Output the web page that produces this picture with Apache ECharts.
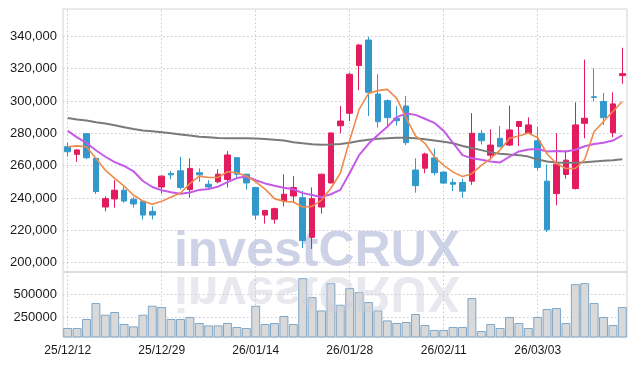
<!DOCTYPE html>
<html>
<head>
<meta charset="utf-8">
<script src="https://cdn.jsdelivr.net/npm/echarts@6/dist/echarts.min.js"></script>
<style>
html,body{margin:0;padding:0;background:#fff;}
#chart{width:637px;height:366px;}
</style>
</head>
<body>
<div id="chart"></div>
<script>
var dates = ['25/12/12','25/12/15','25/12/16','25/12/17','25/12/18','25/12/19','25/12/22','25/12/23','25/12/24','25/12/26',
'25/12/29','25/12/30','26/01/02','26/01/05','26/01/06','26/01/07','26/01/08','26/01/09','26/01/12','26/01/13',
'26/01/14','26/01/15','26/01/16','26/01/19','26/01/20','26/01/21','26/01/22','26/01/23','26/01/26','26/01/27',
'26/01/28','26/01/29','26/01/30','26/02/02','26/02/03','26/02/04','26/02/05','26/02/06','26/02/09','26/02/10',
'26/02/11','26/02/12','26/02/13','26/02/19','26/02/20','26/02/23','26/02/24','26/02/25','26/02/26','26/02/27',
'26/03/03','26/03/04','26/03/05','26/03/06','26/03/09','26/03/10','26/03/11','26/03/12','26/03/13','26/03/16'];

var opens = [271700,267000,279800,264500,234400,239400,244800,239200,238000,231700,
246800,255200,256800,245200,255600,248500,250000,251400,264900,254700,
246500,229400,226900,238100,241200,240200,215700,234400,249300,284700,
292400,321900,337700,304300,300200,289300,296900,257300,258400,264800,
256000,249600,249600,250400,280000,266500,276900,272700,284200,280000,
275400,250400,242700,254500,245800,286200,302600,299700,280400,315700];
var closes = [268600,269700,264900,244000,239600,244800,238100,236300,229400,229400,
253500,254300,246500,258300,254300,246800,254700,266600,254700,249300,
229400,232300,233400,242300,246500,213700,239600,254700,280200,287600,
316500,334600,305400,287200,289700,287800,274200,247600,267200,255600,
249200,248500,244200,280000,275400,272700,271700,282100,287300,285200,
258900,220300,260900,263400,285200,289300,302200,289700,298200,316900];
var lows = [265500,262400,264100,242500,231700,234000,237100,234000,226700,226700,
242700,251600,245200,240200,250000,245800,249000,246500,252000,245200,
226600,224100,224100,234800,236900,209100,208500,230300,249000,280000,
287600,306800,290700,283500,283500,284700,272800,243300,255300,254000,
248800,244200,240000,248100,273100,263800,271300,272100,272100,280000,
257000,218900,235400,252000,245200,276900,299700,285200,277500,310700];
var highs = [274400,270300,280000,264800,241000,251000,246800,240600,238500,234800,
254000,256800,265500,264500,258300,251000,257700,269000,265200,255000,
246800,232600,234000,254700,253500,244300,246500,255000,280500,296900,
317500,335300,339800,316500,301000,296900,303100,264500,268000,270600,
256500,251900,251900,292500,282100,282500,284600,297100,287500,289900,
284100,260700,280000,269600,299100,325600,320200,304900,305300,332900];

var ma5 = [271700,272200,271700,264500,257200,252100,247300,241700,238100,236100,
237900,240600,243100,248900,253500,252700,252700,256200,255600,253500,
250000,245500,239600,237900,237500,234400,234800,238700,246000,255300,
275900,294800,304700,306400,307200,301600,289500,278400,273800,265500,
260200,256000,253300,255000,260200,264400,269600,276900,278300,280200,
277300,267200,261300,258200,258200,263800,281000,287300,293500,299700];
var ma20 = [281500,277500,274000,269500,265500,262200,259800,256500,250500,246800,
244800,243500,242600,243400,245000,245600,247000,249800,252300,253300,
251000,249000,247500,246300,245400,243000,241800,240500,242300,245000,
255500,266500,273500,279000,284000,290000,292200,291400,289000,286500,
281500,274000,266500,264500,263600,262500,262000,265500,268800,270000,
270300,268800,269000,268800,269800,272000,273400,274200,275500,278800];
var ma60 = [289400,288600,287900,286900,286000,285000,283800,282600,281700,281200,
280700,280000,279300,278600,277900,277500,277100,277000,277000,276900,
276800,276500,276000,275500,274500,273800,273200,272900,273000,273400,
274200,275300,276000,276700,277000,277200,277200,277000,276300,275600,
274800,273800,272200,270900,269600,268200,267400,266900,266500,265600,
263800,262500,262000,261800,261800,262100,262600,263000,263400,263900];

var volumes = [140400,140400,236200,406400,281900,310600,183000,157500,281900,377700,
363800,236200,236200,257500,193600,168100,168100,193600,151100,140400,
377700,183000,193600,268100,183000,672300,470200,327700,619100,388300,
566000,523400,417000,327700,221300,193600,204300,289400,172400,119200,
119200,151100,151100,459600,108500,183000,140400,257500,193600,140400,
257500,342600,353200,193600,608500,619100,406400,257500,172400,363800];

var priceTicks = [200000,220000,240000,260000,280000,300000,320000,340000];
var volumeTicks = [250000,500000];
var labelDates = ['25/12/12','25/12/29','26/01/14','26/01/28','26/02/11','26/03/03'];

function comma(v){ return String(v).replace(/\B(?=(\d{3})+(?!\d))/g, ','); }

var candleData = dates.map(function(d,i){ return [opens[i], closes[i], lows[i], highs[i]]; });

var gridColor = '#c6cadb';
var gridLineStyle = {type:[1.5,2.5], color:gridColor, width:1};

var chart = echarts.init(document.getElementById('chart'), null, {renderer:'canvas'});
chart.setOption({
  animation:false,
  backgroundColor:'#ffffff',
  textStyle:{fontFamily:'Liberation Sans, Arial, sans-serif'},
  graphic:[
    {type:'text', z:-10, x:0, y:0, silent:true,
     style:{text:'investCRUX', x:317, y:252, align:'center', verticalAlign:'middle',
            font:'bold 50px "Liberation Sans", Arial, sans-serif', fill:'#cdd2e7'}},
    {type:'text', z:50, x:0, y:0, silent:true, originX:317, originY:271.5, scaleY:-1,
     style:{text:'investCRUX', x:317, y:252, align:'center', verticalAlign:'middle',
            font:'bold 50px "Liberation Sans", Arial, sans-serif',
            fill:'rgba(205,205,220,0.45)'}}
  ],
  grid:[
    {left:63, right:10, top:9, height:263, show:true, borderColor:'#d2d2d2', borderWidth:1, backgroundColor:'transparent'},
    {left:63, right:10, top:272, height:65, show:true, borderColor:'#d2d2d2', borderWidth:1, backgroundColor:'transparent'}
  ],
  xAxis:[
    {type:'category', gridIndex:0, data:dates, boundaryGap:true,
     axisLabel:{show:false}, axisTick:{show:false}, axisLine:{show:false}, splitLine:{show:false}},
    {type:'category', gridIndex:1, data:dates, boundaryGap:true,
     axisLabel:{show:true, interval:9, fontSize:12, color:'#1a1a1a', margin:8, fontFamily:'Liberation Sans'},
     axisTick:{show:false}, axisLine:{show:false}, splitLine:{show:false}}
  ],
  yAxis:[
    {type:'value', gridIndex:0, min:194200, max:356900, scale:true,
     axisLabel:{show:true, customValues:priceTicks, formatter:function(v){return comma(v);}, fontSize:13, color:'#1a1a1a', margin:6, fontFamily:'Liberation Sans'},
     axisTick:{show:false}, axisLine:{show:false}, splitLine:{show:false}},
    {type:'value', gridIndex:1, min:44000, max:738000, scale:true,
     axisLabel:{show:true, customValues:volumeTicks, formatter:function(v){return String(v);}, fontSize:13, color:'#1a1a1a', margin:6, fontFamily:'Liberation Sans'},
     axisTick:{show:false}, axisLine:{show:false}, splitLine:{show:false}}
  ],
  series:[
    {name:'gridMain', type:'line', xAxisIndex:0, yAxisIndex:0, data:[], z:1, silent:true,
     markLine:{z:1, symbol:'none', silent:true, label:{show:false}, lineStyle:gridLineStyle, animation:false,
       data: priceTicks.map(function(v){return {yAxis:v};}).concat(labelDates.map(function(d){return {xAxis:d};}))}},
    {name:'gridVol', type:'line', xAxisIndex:1, yAxisIndex:1, data:[], z:1, silent:true,
     markLine:{z:1, symbol:'none', silent:true, label:{show:false}, lineStyle:gridLineStyle, animation:false,
       data: volumeTicks.map(function(v){return {yAxis:v};}).concat(labelDates.map(function(d){return {xAxis:d};}))}},
    {name:'price', type:'candlestick', xAxisIndex:0, yAxisIndex:0, data:candleData, barWidth:6, z:3,
     itemStyle:{color:'#e31b5f', color0:'#3399cc', borderColor:'#e31b5f', borderColor0:'#3399cc', borderWidth:1}},
    {name:'MA60', type:'line', xAxisIndex:0, yAxisIndex:0, data:ma60, symbol:'none', z:4,
     lineStyle:{color:'#7a7a7a', width:2}},
    {name:'MA20', type:'line', xAxisIndex:0, yAxisIndex:0, data:ma20, symbol:'none', z:4,
     lineStyle:{color:'#c45ae6', width:2}},
    {name:'MA5', type:'line', xAxisIndex:0, yAxisIndex:0, data:ma5, symbol:'none', z:4,
     lineStyle:{color:'#ef8a4a', width:1.6}},
    {name:'volume', type:'bar', xAxisIndex:1, yAxisIndex:1, data:volumes, barCategoryGap:'5%', z:3,
     itemStyle:{color:'#d9d9d9', borderColor:'#7ea7c8', borderWidth:1}}
  ]
});
</script>
</body>
</html>
